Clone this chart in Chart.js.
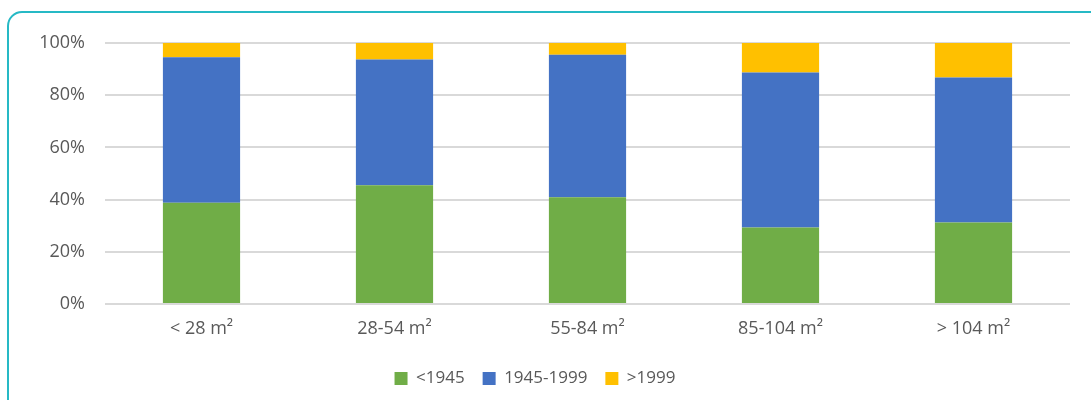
<!DOCTYPE html>
<html>
<head>
<meta charset="utf-8">
<script src="https://cdn.jsdelivr.net/npm/chart.js@4.4.1/dist/chart.umd.min.js"></script>
<style>
  html, body { margin: 0; padding: 0; background: #ffffff; }
  #wrap { position: relative; width: 1091px; height: 400px; overflow: hidden; }
  #frame {
    position: absolute; left: 7px; top: 11px; width: 1200px; height: 500px;
    border: 2px solid #26B9C5; border-radius: 15px; box-sizing: border-box;
    pointer-events: none;
  }
  canvas { position: absolute; left: 0; top: 0; }
</style>
</head>
<body>
<div id="wrap">
  <canvas id="c" width="1091" height="400"></canvas>
  <div id="frame"></div>
</div>
<script>
// Dwelling size classes
const categories = ['< 28 m²', '28-54 m²', '55-84 m²', '85-104 m²', '> 104 m²'];
// Share of dwellings per construction period (%)
const before1945 = [38.8, 45.5, 40.9, 29.3, 31.2];
const from1945to1999 = [55.7, 48.2, 54.6, 59.4, 55.6];
const after1999 = [5.5, 6.3, 4.5, 11.3, 13.2];
const seriesNames = ['<1945', '1945-1999', '>1999'];
const yTicks = [0, 20, 40, 60, 80, 100];

const textColor = '#595959';
const fontFamily = '"Open Sans", "Liberation Sans", sans-serif';

new Chart(document.getElementById('c'), {
  type: 'bar',
  data: {
    labels: categories,
    datasets: [
      { label: seriesNames[0], data: before1945, backgroundColor: '#70AD47' },
      { label: seriesNames[1], data: from1945to1999, backgroundColor: '#4472C4' },
      { label: seriesNames[2], data: after1999, backgroundColor: '#FFC000' }
    ]
  },
  options: {
    responsive: false,
    animation: false,
    layout: { padding: { top: 43, right: 21, left: 0, bottom: 3 } },
    datasets: { bar: { barPercentage: 0.4, categoryPercentage: 1.0 } },
    plugins: {
      tooltip: { enabled: false },
      legend: {
        position: 'bottom',
        labels: {
          color: textColor,
          font: { family: fontFamily, size: 17 },
          boxWidth: 13, boxHeight: 13, padding: 18,
          useBorderRadius: false
        }
      }
    },
    scales: {
      x: {
        stacked: true,
        grid: { display: false, drawTicks: false },
        border: { display: false },
        ticks: { color: textColor, font: { family: fontFamily, size: 18 }, padding: 14, maxRotation: 0 },
        afterFit: (s) => { s.height = 48; }
      },
      y: {
        stacked: true,
        min: 0, max: 100,
        afterBuildTicks: (s) => { s.ticks = yTicks.map(v => ({ value: v })); },
        grid: { color: '#D9D9D9', lineWidth: 2, drawTicks: false },
        border: { display: false },
        ticks: {
          color: textColor, font: { family: fontFamily, size: 18 }, padding: 20,
          callback: (v) => v + '%'
        },
        afterFit: (s) => { s.width = 105; }
      }
    }
  }
});
</script>
</body>
</html>
